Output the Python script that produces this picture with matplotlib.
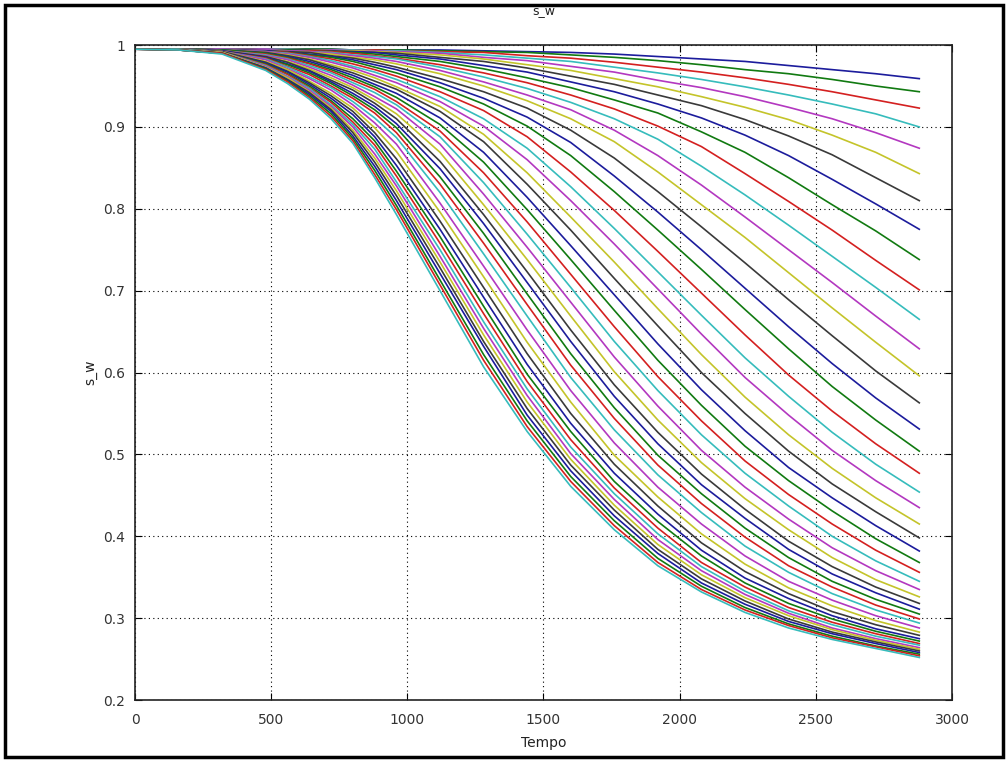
import matplotlib
matplotlib.use('Agg')
import matplotlib.pyplot as plt
from matplotlib.patches import Rectangle

# Tempo (eixo x) e curvas s_w
tempo = [0, 160, 320, 480, 560, 640, 720, 800, 880, 960, 1120,
         1280, 1440, 1600, 1760, 1920, 2080, 2240, 2400, 2560, 2720, 2880]

s_w = [
    [.995, .995, .995, .995, .995, .995, .995, .994, .994, .994, .994, .993, .992, .991, .989, .986, .983, .980, .975, .970, .965, .959],
    [.995, .995, .995, .995, .995, .995, .995, .994, .994, .994, .993, .992, .991, .988, .985, .981, .976, .970, .965, .958, .950, .943],
    [.995, .995, .995, .995, .995, .994, .994, .994, .994, .993, .992, .991, .987, .984, .979, .973, .967, .960, .952, .943, .933, .923],
    [.995, .995, .995, .995, .995, .994, .994, .994, .993, .993, .991, .988, .984, .980, .973, .966, .958, .949, .939, .928, .916, .900],
    [.995, .995, .995, .995, .994, .994, .994, .993, .993, .992, .990, .985, .981, .974, .967, .957, .948, .937, .924, .910, .893, .874],
    [.995, .995, .995, .994, .994, .994, .993, .993, .992, .991, .988, .983, .976, .969, .959, .949, .937, .924, .909, .890, .869, .843],
    [.995, .995, .995, .994, .994, .994, .993, .992, .991, .990, .985, .980, .972, .962, .952, .939, .926, .909, .889, .866, .838, .810],
    [.995, .995, .995, .994, .994, .993, .992, .992, .991, .988, .983, .975, .967, .955, .943, .928, .911, .890, .865, .836, .806, .775],
    [.995, .995, .995, .994, .994, .993, .992, .991, .989, .986, .980, .971, .960, .948, .933, .917, .894, .869, .838, .805, .773, .738],
    [.995, .995, .995, .994, .993, .993, .992, .990, .987, .984, .976, .966, .954, .939, .922, .901, .876, .843, .809, .774, .737, .701],
    [.995, .995, .995, .994, .993, .992, .991, .988, .986, .983, .973, .961, .947, .930, .910, .885, .852, .817, .780, .742, .704, .665],
    [.995, .995, .995, .994, .993, .992, .990, .987, .984, .980, .969, .955, .939, .921, .896, .865, .829, .790, .750, .710, .669, .629],
    [.995, .995, .994, .993, .992, .991, .989, .985, .982, .977, .965, .950, .932, .910, .882, .845, .805, .765, .722, .679, .637, .596],
    [.995, .995, .994, .993, .992, .991, .987, .984, .979, .973, .959, .943, .923, .896, .862, .821, .778, .734, .689, .645, .602, .563],
    [.995, .995, .994, .993, .991, .989, .986, .982, .976, .970, .954, .935, .912, .881, .840, .796, .750, .703, .656, .611, .569, .531],
    [.995, .995, .994, .992, .991, .988, .985, .980, .973, .966, .949, .928, .901, .865, .821, .774, .726, .677, .629, .583, .542, .504],
    [.995, .995, .994, .992, .991, .987, .983, .977, .970, .962, .943, .920, .888, .845, .798, .748, .697, .646, .597, .553, .513, .477],
    [.995, .995, .994, .992, .990, .986, .981, .974, .967, .958, .937, .910, .874, .827, .776, .723, .670, .618, .571, .527, .488, .454],
    [.995, .995, .994, .992, .989, .985, .979, .972, .963, .954, .931, .901, .860, .810, .757, .702, .647, .594, .548, .505, .468, .435],
    [.995, .995, .994, .991, .988, .983, .976, .969, .960, .949, .925, .891, .844, .790, .735, .678, .622, .570, .524, .483, .447, .415],
    [.995, .995, .994, .991, .987, .982, .974, .966, .956, .946, .919, .882, .830, .774, .715, .657, .600, .550, .504, .464, .430, .398],
    [.995, .995, .994, .990, .986, .980, .972, .963, .952, .941, .911, .869, .814, .755, .695, .635, .579, .529, .484, .447, .413, .382],
    [.995, .995, .994, .990, .985, .978, .970, .960, .949, .936, .903, .857, .799, .738, .676, .615, .560, .510, .468, .431, .397, .368],
    [.995, .995, .993, .989, .984, .977, .968, .957, .946, .931, .895, .844, .784, .720, .656, .595, .541, .492, .451, .415, .383, .356],
    [.995, .995, .993, .988, .983, .975, .966, .954, .942, .927, .888, .832, .769, .704, .638, .578, .524, .477, .437, .400, .370, .345],
    [.995, .995, .993, .987, .982, .973, .963, .951, .937, .922, .879, .818, .753, .686, .619, .559, .505, .460, .421, .386, .358, .335],
    [.995, .995, .993, .986, .980, .971, .960, .948, .933, .916, .869, .805, .738, .669, .601, .542, .490, .446, .408, .374, .347, .326],
    [.995, .995, .993, .986, .979, .969, .957, .945, .929, .910, .858, .793, .723, .652, .585, .527, .476, .433, .394, .363, .338, .318],
    [.995, .995, .993, .985, .977, .968, .955, .941, .925, .904, .849, .782, .710, .638, .571, .513, .463, .422, .384, .354, .331, .311],
    [.995, .995, .992, .984, .976, .966, .953, .938, .921, .899, .839, .770, .696, .623, .557, .499, .452, .410, .374, .345, .323, .305],
    [.995, .995, .992, .984, .974, .964, .950, .935, .917, .893, .830, .758, .683, .609, .544, .487, .440, .399, .364, .338, .316, .299],
    [.995, .995, .992, .983, .973, .961, .948, .931, .911, .887, .820, .745, .669, .594, .530, .475, .429, .388, .356, .330, .310, .294],
    [.995, .995, .992, .982, .971, .959, .945, .927, .905, .879, .807, .730, .652, .578, .514, .460, .415, .376, .345, .322, .303, .288],
    [.995, .995, .992, .980, .970, .956, .941, .923, .899, .870, .796, .717, .637, .564, .499, .448, .403, .366, .337, .315, .297, .283],
    [.995, .995, .992, .979, .968, .954, .938, .919, .893, .861, .785, .704, .623, .550, .488, .437, .392, .357, .330, .308, .292, .279],
    [.995, .995, .991, .978, .967, .952, .935, .915, .888, .853, .775, .692, .610, .538, .477, .427, .383, .349, .324, .303, .287, .275],
    [.995, .995, .991, .977, .965, .950, .932, .910, .883, .846, .766, .681, .598, .528, .467, .418, .376, .343, .318, .299, .284, .272],
    [.995, .995, .991, .976, .964, .948, .930, .906, .878, .840, .758, .672, .589, .518, .459, .410, .368, .338, .313, .295, .281, .269],
    [.995, .995, .991, .975, .962, .947, .927, .903, .873, .833, .750, .662, .580, .509, .452, .403, .363, .333, .309, .292, .278, .267],
    [.995, .994, .991, .974, .961, .945, .925, .900, .867, .828, .742, .654, .572, .501, .445, .396, .358, .329, .306, .288, .275, .264],
    [.995, .994, .991, .973, .960, .943, .923, .896, .862, .822, .735, .646, .564, .494, .438, .390, .353, .325, .303, .286, .273, .262],
    [.995, .994, .990, .972, .958, .942, .921, .893, .857, .816, .728, .638, .556, .487, .432, .384, .348, .321, .299, .283, .271, .260],
    [.995, .994, .990, .972, .957, .940, .919, .889, .852, .810, .721, .632, .548, .480, .425, .379, .343, .317, .296, .281, .269, .258],
    [.995, .994, .990, .971, .956, .938, .916, .886, .847, .804, .713, .622, .541, .473, .419, .373, .339, .313, .293, .278, .266, .256],
    [.995, .994, .990, .970, .955, .936, .913, .883, .842, .799, .707, .615, .534, .467, .413, .368, .335, .310, .291, .276, .265, .254],
    [.995, .994, .989, .969, .953, .934, .910, .880, .838, .793, .700, .607, .528, .461, .408, .364, .332, .307, .288, .274, .263, .252],
]

# ciclo de cores estilo Octave
cores = ['#1c1c9c', '#117a11', '#d42020', '#36bcbc', '#b338c0', '#c4c42a', '#3a3a3a']

x_ticks = [0, 500, 1000, 1500, 2000, 2500, 3000]
y_ticks = [0.2, 0.3, 0.4, 0.5, 0.6, 0.7, 0.8, 0.9, 1.0]
y_tick_labels = ['0.2', '0.3', '0.4', '0.5', '0.6', '0.7', '0.8', '0.9', '1']

fig = plt.figure(figsize=(10.06, 7.6), dpi=100)
ax = fig.add_axes([0.1342, 0.0789, 0.8121, 0.8618])

for i, serie in enumerate(s_w):
    ax.plot(tempo, serie, color=cores[i % len(cores)], linewidth=1.2)

ax.set_xlim(0, 3000)
ax.set_ylim(0.2, 1.0)
ax.set_xticks(x_ticks)
ax.set_yticks(y_ticks)
ax.set_yticklabels(y_tick_labels)

ax.grid(True, color='black', linestyle=(0, (1, 3)), linewidth=0.8)
ax.tick_params(direction='in', top=True, right=True, length=5,
               labelsize=10, labelcolor='#333333')
ax.tick_params(axis='x', pad=9)
ax.tick_params(axis='y', pad=7)
for sp in ax.spines.values():
    sp.set_linewidth(1.2)
    sp.set_color('#222222')

ax.set_title('s_w', fontsize=9, pad=22, color='#222222')
ax.set_xlabel('Tempo', fontsize=10, labelpad=7, color='#222222')
ax.set_ylabel('s_w', fontsize=10, color='#222222')

# moldura preta em volta da figura
fig.patches.append(Rectangle((0.005, 0.004), 0.992, 0.989, transform=fig.transFigure,
                             fill=False, edgecolor='black', linewidth=2.5))

fig.savefig('out.png', dpi=100)
